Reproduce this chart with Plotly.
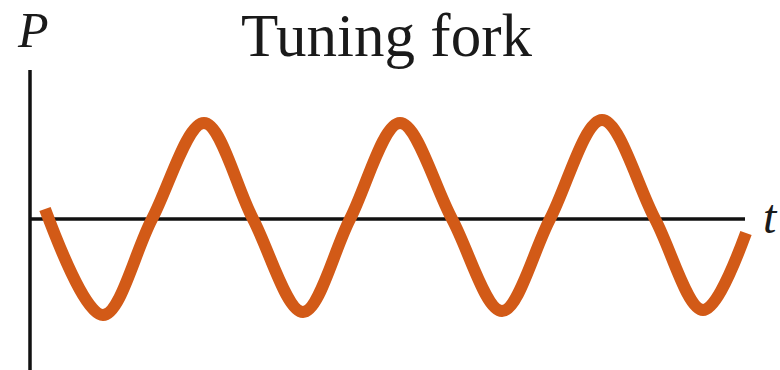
import plotly.graph_objects as go

# Key points (time in arbitrary units, pressure relative to ambient)
t_values = [0.15, 0.73, 1.22, 1.74, 2.23, 2.73, 3.20, 3.70, 4.22, 4.72, 5.20, 5.72, 6.25, 6.73, 7.16]
p_values = [0.10, -0.96, 0.0, 0.96, 0.0, -0.93, 0.0, 0.96, 0.0, -0.92, 0.0, 0.99, 0.0, -0.91, -0.14]

title_text = "Tuning fork"
y_label = "P"
x_label = "t"

curve_color = "#D25A17"
axis_color = "#111111"

fig = go.Figure()
fig.add_trace(go.Scatter(
    x=t_values, y=p_values, mode="lines",
    line=dict(color=curve_color, width=12, shape="spline", smoothing=1.0),
    hoverinfo="skip", showlegend=False,
))

# axis lines
fig.add_shape(type="line", x0=0, x1=0, y0=-1.52, y1=1.49,
              line=dict(color=axis_color, width=3.5), layer="below")
fig.add_shape(type="line", x0=0, x1=7.15, y0=0, y1=0,
              line=dict(color=axis_color, width=3.5), layer="below")

fig.add_annotation(x=0.495, xref="paper", y=1.0, yref="paper", yanchor="top",
                   yshift=0, text=title_text, showarrow=False,
                   font=dict(family="Liberation Serif", size=61, color="#1a1a1a"))
fig.add_annotation(x=0.0, xref="x", y=1.0, yref="paper", yanchor="top",
                   xshift=3, yshift=0, text="<i>" + y_label + "</i>", showarrow=False,
                   font=dict(family="Liberation Serif", size=50, color="#1a1a1a"))
fig.add_annotation(x=7.15, xref="x", y=0, yref="y", xanchor="left", yanchor="middle",
                   xshift=16, yshift=3, text="<i>" + x_label + "</i>", showarrow=False,
                   font=dict(family="Liberation Serif", size=48, color="#1a1a1a"))

fig.update_layout(
    width=780, height=370,
    margin=dict(l=0, r=0, t=0, b=0),
    paper_bgcolor="white", plot_bgcolor="white",
    hovermode=False,
    xaxis=dict(range=[-0.30, 7.50], visible=False, fixedrange=True),
    yaxis=dict(range=[-1.51, 2.19], visible=False, fixedrange=True),
)

fig.write_html("out.html",
               config={"displayModeBar": False, "staticPlot": True},
               post_script="document.body.style.margin='0';document.body.style.overflow='hidden';")
